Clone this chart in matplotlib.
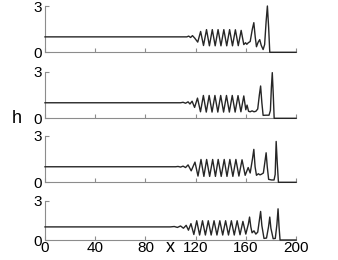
import matplotlib
matplotlib.use("Agg")
import matplotlib.pyplot as plt

plt.rcParams['font.family'] = ['Liberation Sans', 'DejaVu Sans']

# ---- data ----
x_ticks = [0, 40, 80, 120, 160, 200]
y_ticks = [0, 3]

# panel 1
x1 = [0, 113, 114.5, 116.0, 117.5, 119.3, 121.7, 124.0, 126.3, 128.7, 131.0, 133.3, 135.6,
      137.9, 140.2, 142.5, 144.8, 147.1, 149.4, 151.7, 154.0, 156.3, 158.4, 159.8, 160.8,
      162.0, 163.5, 165.2, 166.4, 167.5, 168.5, 169.8, 171.1, 172.3, 173.8, 175.0, 176.2,
      177.2, 178.2, 179.1, 200]
h1 = [1.0, 1.0, 1.05, 0.96, 1.08, 0.92, 0.66, 1.35, 0.44, 1.47, 0.42, 1.47, 0.42,
      1.47, 0.42, 1.47, 0.42, 1.47, 0.42, 1.46, 0.43, 1.42, 0.5, 0.62, 0.52,
      0.62, 0.7, 1.5, 1.92, 1.0, 0.36, 0.65, 0.82, 0.45, 0.18, 0.5, 2.0,
      3.0, 1.6, 0.0, 0.0]

# panel 2
x2 = [0, 108, 110.0, 112.0, 114.0, 115.5, 117.2, 119.2, 121.5, 123.9, 126.2, 128.5, 130.8,
      133.1, 135.4, 137.7, 140.0, 142.3, 144.6, 146.9, 149.2, 151.5, 153.8, 156.1, 158.4,
      160.0, 161.0, 162.2, 163.5, 165.0, 166.5, 168.0, 169.5, 170.8, 171.8, 172.8, 173.8,
      176.0, 178.5, 179.6, 180.4, 181.1, 181.9, 182.6, 200]
h2 = [1.0, 1.0, 1.03, 0.97, 1.06, 0.92, 1.1, 0.7, 1.3, 0.42, 1.47, 0.4, 1.47,
      0.4, 1.47, 0.4, 1.47, 0.4, 1.47, 0.4, 1.47, 0.4, 1.46, 0.42, 1.44,
      0.55, 0.85, 0.45, 0.42, 0.48, 0.42, 0.45, 0.6, 1.5, 2.08, 1.0, 0.19,
      0.2, 0.2, 0.5, 2.0, 2.94, 1.5, 0.0, 0.0]

# panel 3
x3 = [0, 104, 106.0, 108.0, 110.0, 112.0, 114.0, 116.5, 119.5, 121.9, 124.3, 126.6, 128.8,
      131.2, 133.6, 135.8, 138.0, 140.4, 142.8, 145.0, 147.3, 149.7, 152.1, 154.5, 157.0,
      159.5, 161.9, 163.5, 165.3, 166.4, 167.4, 168.5, 170.0, 171.3, 172.5, 174.0, 175.2,
      176.2, 177.1, 178.2, 180.5, 182.5, 183.4, 184.2, 185.1, 186.0, 200]
h3 = [1.0, 1.0, 1.02, 0.98, 1.04, 0.95, 1.12, 0.74, 1.3, 0.4, 1.47, 0.38, 1.47,
      0.38, 1.47, 0.38, 1.47, 0.38, 1.47, 0.38, 1.47, 0.38, 1.47, 0.4, 1.45,
      0.45, 0.95, 0.6, 1.5, 2.12, 1.0, 0.45, 0.55, 0.48, 0.52, 0.6, 1.3,
      1.9, 1.0, 0.19, 0.15, 0.15, 0.5, 2.63, 1.2, 0.0, 0.0]

# panel 4
x4 = [0, 100, 103.0, 105.5, 108.0, 110.3, 112.5, 114.3, 116.3, 118.6, 120.9, 123.2, 125.5,
      127.8, 130.1, 132.4, 134.7, 137.0, 139.3, 141.6, 143.9, 146.2, 148.5, 150.8, 153.1,
      155.4, 157.7, 160.0, 162.0, 163.0, 164.0, 165.0, 166.5, 168.0, 169.5, 170.8, 171.8,
      172.8, 174.5, 176.5, 178.1, 179.1, 180.0, 181.8, 183.5, 184.8, 185.7, 186.5, 187.3, 200]
h4 = [1.0, 1.0, 1.03, 0.96, 1.07, 0.9, 1.12, 0.75, 1.25, 0.42, 1.47, 0.38, 1.47,
      0.38, 1.47, 0.38, 1.47, 0.38, 1.47, 0.38, 1.47, 0.38, 1.47, 0.38, 1.47,
      0.4, 1.42, 0.45, 1.2, 1.75, 1.0, 0.55, 0.7, 0.45, 0.6, 1.5, 2.18,
      1.1, 0.12, 0.15, 1.0, 1.75, 0.9, 0.1, 0.12, 1.2, 2.38, 1.0, 0.0, 0.0]

series = [(x1, h1), (x2, h2), (x3, h3), (x4, h4)]

# ---- layout (pixel boxes: top, bottom) ----
W, H = 338, 260
boxes = [(6, 52.3), (71.7, 118.3), (135.7, 182.3), (200.7, 240)]
left_px, right_px = 45, 296

fig = plt.figure(figsize=(W / 100, H / 100), dpi=100)
axis_grey = '#8c8c8c'
for i, ((xs, hs), (top, bot)) in enumerate(zip(series, boxes)):
    ax = fig.add_axes([left_px / W, (H - bot) / H, (right_px - left_px) / W, (bot - top) / H])
    ax.plot(xs, hs, color='#262626', lw=1.0, clip_on=False, zorder=3,
            solid_joinstyle='round')
    ax.set_xlim(0, 200)
    ax.set_ylim(0, 3)
    ax.set_xticks(x_ticks)
    ax.set_yticks(y_ticks)
    for s in ('top', 'right'):
        ax.spines[s].set_visible(False)
    for s in ('left', 'bottom'):
        ax.spines[s].set_color(axis_grey)
        ax.spines[s].set_linewidth(0.8)
    ax.tick_params(direction='in', length=3, width=0.8, color=axis_grey,
                   labelsize=11, pad=2)
    ax.tick_params(axis='x', pad=0.5)
    if i < 3:
        ax.set_xticklabels([])
    ax.patch.set_alpha(0)

fig.text(16.7 / W, 1 - 118.3 / H, 'h', fontsize=13, ha='center', va='center')
fig.text(170 / W, 1 - 247 / H, 'x', fontsize=13, ha='center', va='center')

fig.savefig('out.png', dpi=100)
